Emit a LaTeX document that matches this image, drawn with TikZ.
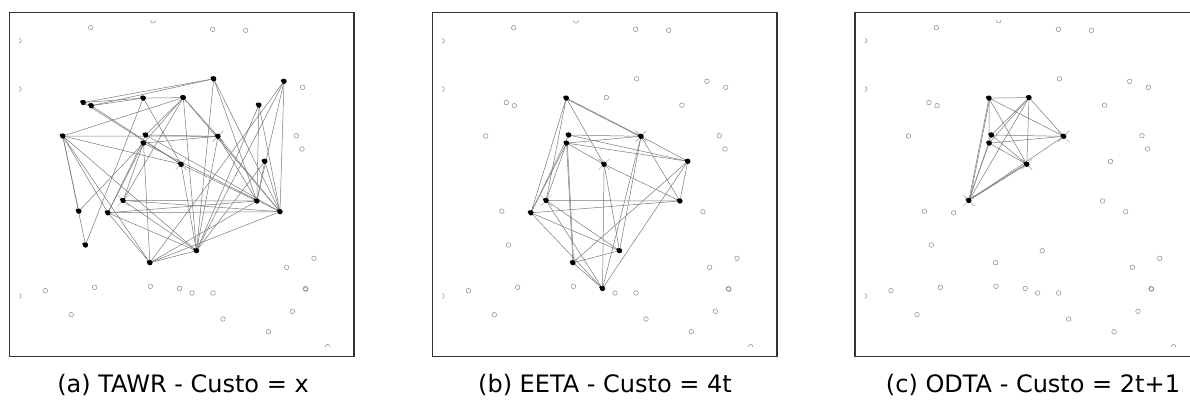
\documentclass[tikz,border=0pt]{standalone}
\usepackage{fontspec}
\setmainfont{DejaVu Sans}
\tikzset{
  frame/.style={draw=black!80, line width=1.1pt},
  edge/.style={draw=black!52, line width=0.5pt},
  sensor/.style={draw=black!50, line width=0.45pt},
  xmark/.style={draw=black!40, line width=0.45pt},
  dot/.style={circle, fill=black, inner sep=0pt, minimum size=5.2pt},
  capt/.style={font=\fontsize{24}{28}\selectfont, anchor=base, inner sep=0pt},
}
% all point positions, relative to the top-left corner of a panel frame
\newcommand\placepoints[1]{%
  \foreach \n/\u/\v in {1/204.4/66.5, 2/274.7/69, 3/74/90.2, 4/82/93.4, 5/134/85.8,
      6/174/85.3, 7/249.6/92.8, 8/53.5/123.7, 9/136.4/122.7, 10/134.2/130.8,
      11/208.7/124, 12/171.8/152, 13/255.5/149, 14/113.8/188.2, 15/247.6/188.7,
      16/270.7/199.4, 17/69.5/198.9, 18/98.6/200.5, 19/76.2/232.7, 20/187.2/238.4,
      21/140.6/250.4, 22/170.2/276.2}
    {\coordinate (#1\n) at (\u,\v);}
  \foreach \n/\u/\v in {1/81.4/15.4, 2/143.7/8.4, 3/203.4/17, 4/236.4/18, 5/9.7/28.4,
      6/9.7/76.7, 7/293.4/75, 8/287/123.4, 9/292.7/136.7, 10/304.7/246,
      11/277.4/255, 12/296/276.4, 13/36/278.4, 14/85.4/275, 15/141/274,
      17/182.7/280.7, 18/203.7/280.7, 19/9.7/283.7, 20/62/302.4, 21/283/299,
      22/213.7/306.7, 23/259/319.4, 24/318.4/334.4}
    {\coordinate (#1c\n) at (\u,\v);}
  \draw[frame] (0,0) rectangle (344.7,344.4);
  \begin{scope}
    \clip (9.7,8.4) rectangle (340,334.4);
    \foreach \n in {1,...,22} {\draw[sensor] (#1\n) circle (2.3pt);}
    \foreach \n in {1,...,15,17,18,...,24} {\draw[sensor] (#1c\n) circle (2.3pt);}
    \draw[sensor] ([shift={(0.6,0.4)}]#1c12) circle (2.3pt);
  \end{scope}
  \foreach \n in {11,12,14} {
    \draw[xmark] ([shift={(-5.5,5.5)}]#1\n) -- ([shift={(5.5,-5.5)}]#1\n);
    \draw[xmark] ([shift={(-5.5,-5.5)}]#1\n) -- ([shift={(5.5,5.5)}]#1\n);
  }
}
\newcommand\drawedges[2]{%
  \foreach \i/\j in {#2} {\draw[edge] (#1\i) -- (#1\j);}
}
\newcommand\drawdots[2]{%
  \foreach \n in {#2} {
    \node[dot] (#1d\n) at (#1\n) {};
    \fill ([shift={(-1.8,-1)}]#1\n) circle (1.5pt);
  }
}
\begin{document}
\begin{tikzpicture}[x=1pt, y=-1pt]
\path[use as bounding box] (0,0) rectangle (1190,399);
\clip (0,0) rectangle (1190,399);
\fill[white] (0,0) rectangle (1190,399);

% ---------------- panel (a)
\begin{scope}[shift={(9.3,12.3)}]
  \placepoints{a}
  \drawedges{a}{1/3, 1/4, 1/20, 1/15, 1/16,
    2/16, 2/20, 2/21, 2/15,
    7/15, 7/16, 7/20,
    13/15, 13/16, 13/20,
    6/5, 6/8, 6/9, 6/10, 6/11, 6/16, 6/20,
    5/3, 5/4, 5/12, 5/19,
    8/11, 8/12, 8/17, 8/18, 8/19, 8/21, 8/20,
    9/11, 10/11,
    3/12, 4/12, 12/15, 9/16, 10/16,
    10/17, 9/18, 10/18, 10/14, 10/21,
    14/15, 14/16, 14/20, 14/6,
    18/15, 18/16, 18/20, 18/21,
    21/20, 21/15, 21/16,
    20/11, 20/12,
    11/15, 11/16}
  \drawdots{a}{1,...,21}
\end{scope}

% ---------------- panel (b)
\begin{scope}[shift={(432.3,12.3)}]
  \placepoints{b}
  \drawedges{b}{5/11, 5/18, 5/14, 5/12,
    9/11, 9/13, 10/13, 10/11, 10/12, 10/14, 10/18, 10/21, 9/18,
    11/13, 11/15, 11/20, 11/22,
    12/15, 12/22, 12/20,
    13/15, 13/21, 13/22,
    14/15, 14/20, 14/22,
    18/15, 18/20, 18/22,
    21/20, 21/22}
  \draw[edge] ([yshift=-0.8pt]b5) -- ([yshift=-0.8pt]b11);
  \draw[edge] ([xshift=0.8pt]b10) -- ([xshift=0.8pt]b21);
  \drawdots{b}{5,9,10,11,12,13,14,15,18,20,21,22}
\end{scope}

% ---------------- panel (c)
\begin{scope}[shift={(855,12.3)}]
  \placepoints{c}
  \drawedges{c}{5/6, 5/11, 5/12, 5/14, 5/10,
    6/9, 6/10, 6/11, 6/12, 6/14,
    9/11, 10/11, 9/12, 10/12,
    9/14, 10/14, 11/14, 12/14}
  \draw[edge] ([xshift=0.9pt]c5) -- ([xshift=0.9pt]c14);
  \draw[edge] ([yshift=0.9pt]c12) -- ([yshift=0.9pt]c14);
  \drawdots{c}{5,6,9,10,11,12,14}
\end{scope}

% ---------------- captions
\node[capt] (capa) at (183,392) {(a) TAWR - Custo = x};
\node[capt] (capb) at (605,392) {(b) EETA - Custo = 4t};
\node[capt] (capc) at (1033,392) {(c) ODTA - Custo = 2t+1};
\end{tikzpicture}
\end{document}
